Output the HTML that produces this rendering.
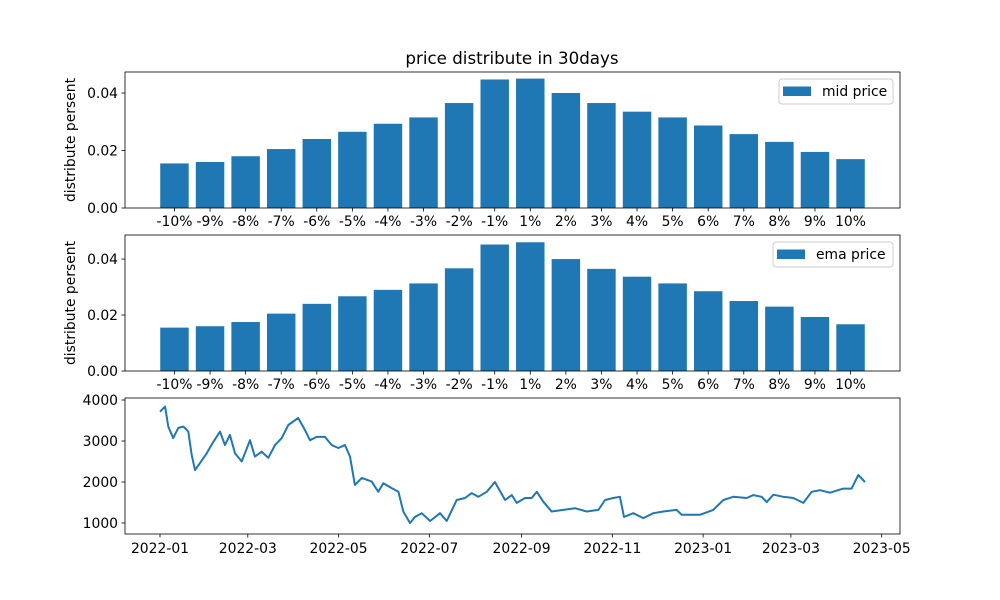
<!DOCTYPE html>
<html><head><meta charset="utf-8"><style>
body{margin:0;background:#fff;}
svg{display:block;font-family:"DejaVu Sans","Liberation Sans",sans-serif;}
</style></head><body>
<svg id="fig" width="1000" height="600" viewBox="0 0 1000 600"></svg>
<script>
const categories=["-10%","-9%","-8%","-7%","-6%","-5%","-4%","-3%","-2%","-1%","1%","2%","3%","4%","5%","6%","7%","8%","9%","10%"];
const midValues=[0.0155,0.016,0.018,0.0205,0.024,0.0265,0.0293,0.0315,0.0365,0.0447,0.045,0.040,0.0365,0.0335,0.0315,0.0287,0.0257,0.023,0.0195,0.017];
const emaValues=[0.0155,0.016,0.0175,0.0205,0.024,0.0267,0.029,0.0313,0.0367,0.0452,0.046,0.040,0.0365,0.0337,0.0313,0.0285,0.025,0.023,0.0193,0.0167];
const barTicks=[0,0.02,0.04];
const barTickLabels=["0.00","0.02","0.04"];
const priceDays=[0,3.4,5.6,8.9,12.3,15.7,19,21.3,23.5,26.9,31.4,35.9,40.3,43.7,47,50.4,54.9,60.5,63.8,68.3,72.8,77.3,81.8,86.2,92.9,97.4,100.8,105.3,110.9,115.4,119.8,124.3,127.7,131,135.6,142.3,146.7,150.1,155.7,160.2,163.5,168,171.4,175.9,181.5,188.2,192.7,199.4,205,209.5,213.9,219.6,225.1,231.9,236.4,239.7,245.3,249.8,253.2,257.6,263.2,271,278.9,286.8,294.6,299.1,304.6,309.1,311.8,318.1,324.8,331.5,338.2,347.2,350.6,362.9,371.8,378.6,385.3,394.3,398.7,404.4,407.7,412.2,418.9,425.6,432.3,438,443.5,450.3,459.2,464.8,469.3,473.8];
const priceValues=[3715,3840,3350,3070,3320,3350,3230,2660,2290,2460,2700,2980,3230,2900,3150,2700,2500,3020,2620,2740,2590,2900,3070,3390,3560,3270,3020,3100,3100,2900,2830,2900,2620,1930,2100,2010,1760,1970,1850,1760,1280,1000,1150,1240,1050,1240,1050,1560,1610,1730,1640,1760,2000,1560,1680,1490,1610,1610,1760,1520,1280,1320,1360,1280,1320,1560,1610,1640,1150,1240,1120,1240,1280,1320,1200,1200,1320,1560,1640,1610,1680,1640,1510,1690,1640,1610,1490,1760,1800,1740,1840,1840,2170,2000];
const priceTicks=[1000,2000,3000,4000];
const dateTickDays=[0,59,120,181,243,304,365,424,485];
const dateTickLabels=["2022-01","2022-03","2022-05","2022-07","2022-09","2022-11","2023-01","2023-03","2023-05"];

const svg=document.getElementById('fig');
const NS='http://www.w3.org/2000/svg';
function mk(tag,attrs,parent,text){const e=document.createElementNS(NS,tag);for(const k in attrs)e.setAttribute(k,attrs[k]);if(text!==undefined)e.textContent=text;(parent||svg).appendChild(e);return e;}
const L=125,R=900,FS=13.9;
const t=mk('text',{x:512,y:64,'text-anchor':'middle','font-size':16.7,fill:'#000'},svg,'price distribute in 30days');



function barPanel(top,bottom,vals,ymax,legendText,legX,name){
  const g=mk('g',{});
  
  
  const sx=i=>L+(i+0.4+0.99)*(R-L)/21.78;
  const sy=v=>bottom-v/ymax*(bottom-top);
  const bw=0.8*(R-L)/21.78;
  vals.forEach((v,i)=>{
    const r=mk('rect',{x:sx(i)-bw/2,y:sy(v),width:bw,height:bottom-sy(v),fill:'#1f77b4'},g);
    
    
    mk('line',{x1:sx(i),x2:sx(i),y1:bottom,y2:bottom+3.5,stroke:'#000','stroke-width':0.8},g);
    const tl=mk('text',{x:sx(i),y:bottom+18,'text-anchor':'middle','font-size':FS},g,categories[i]);
    
    
  });
  barTicks.forEach((v,i)=>{
    mk('line',{x1:L-3.5,x2:L,y1:sy(v),y2:sy(v),stroke:'#000','stroke-width':0.8},g);
    const tl=mk('text',{x:L-7,y:sy(v)+5,'text-anchor':'end','font-size':FS},g,barTickLabels[i]);
    
    
  });
  mk('rect',{x:L,y:top,width:R-L,height:bottom-top,fill:'none',stroke:'#000','stroke-width':0.8},g);
  const yl=mk('text',{x:75,y:(top+bottom)/2,'text-anchor':'middle','font-size':FS,transform:`rotate(-90 75 ${(top+bottom)/2})`},g,'distribute persent');
  
  
  const lg=mk('g',{},g);
  
  
  mk('rect',{x:legX,y:top+7,width:893-legX,height:25,rx:3,fill:'#fff',stroke:'#ccc','stroke-width':1},lg);
  mk('rect',{x:legX+4,y:top+14.5,width:28,height:9.5,fill:'#1f77b4'},lg);
  mk('text',{x:legX+43,y:top+24,'font-size':FS},lg,legendText);
}
barPanel(72,208,midValues,0.0473,'mid price',779,'mid-price-panel');
barPanel(235,371,emaValues,0.0486,'ema price',773,'ema-price-panel');

(function(){
  const top=398,bottom=534;
  const g=mk('g',{});
  
  
  const sx=d=>160+d*1.488;
  const sy=v=>523-(v-1000)/1000*41;
  const pts=priceDays.map((d,i)=>sx(d).toFixed(1)+','+sy(priceValues[i]).toFixed(1)).join(' ');
  const pl=mk('polyline',{points:pts,fill:'none',stroke:'#1f77b4','stroke-width':2,'stroke-linejoin':'round'},g);
  
  
  priceTicks.forEach(v=>{
    mk('line',{x1:L-3.5,x2:L,y1:sy(v),y2:sy(v),stroke:'#000','stroke-width':0.8},g);
    const tl=mk('text',{x:L-7,y:sy(v)+5,'text-anchor':'end','font-size':FS},g,String(v));
    
    
  });
  dateTickDays.forEach((d,i)=>{
    mk('line',{x1:sx(d),x2:sx(d),y1:bottom,y2:bottom+3.5,stroke:'#000','stroke-width':0.8},g);
    const tl=mk('text',{x:sx(d),y:bottom+19,'text-anchor':'middle','font-size':FS},g,dateTickLabels[i]);
    
    
  });
  mk('rect',{x:L,y:top,width:R-L,height:bottom-top,fill:'none',stroke:'#000','stroke-width':0.8},g);
})();
</script>
</body></html>
